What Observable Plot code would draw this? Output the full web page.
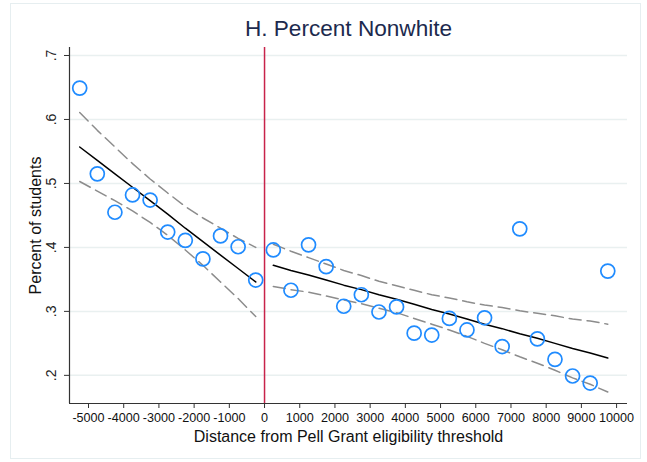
<!DOCTYPE html>
<html>
<head>
<meta charset="utf-8">
<script src="https://cdn.jsdelivr.net/npm/d3@7"></script>
<script src="https://cdn.jsdelivr.net/npm/@observablehq/plot@0.6"></script>
<style>
  html, body { margin: 0; padding: 0; background: #fff; }
  #wrap { position: relative; width: 647px; height: 462px; }
  #border { position: absolute; left: 10px; top: 3px; width: 631px; height: 456px; border: 1px solid #e6eef0; box-sizing: border-box; pointer-events: none; }
  svg { font-family: "Liberation Sans", Arial, sans-serif; }
</style>
</head>
<body>
<div id="wrap"><div id="border"></div></div>
<script>
// ---- data ----
const title = "H. Percent Nonwhite";
const xLabel = "Distance from Pell Grant eligibility threshold";
const yLabel = "Percent of students";
const xTicks = [-5000,-4000,-3000,-2000,-1000,0,1000,2000,3000,4000,5000,6000,7000,8000,9000,10000];
const yTicks = [0.2,0.3,0.4,0.5,0.6,0.7];

// binned means
const binX = [-5250,-4750,-4250,-3750,-3250,-2750,-2250,-1750,-1250,-750,-250,
              250,750,1250,1750,2250,2750,3250,3750,4250,4750,5250,5750,6250,6750,7250,7750,8250,8750,9250,9750];
const binY = [0.649,0.515,0.455,0.482,0.474,0.424,0.411,0.382,0.418,0.401,0.349,
              0.396,0.333,0.404,0.370,0.308,0.326,0.299,0.307,0.266,0.263,0.289,0.271,0.290,0.245,0.429,0.257,0.225,0.199,0.188,0.363];

// fitted line and confidence band, left of threshold
const leftX   = [-5250,-4750,-4250,-3750,-3250,-2750,-2250,-1750,-1250,-750,-250];
const leftFit = [0.557,0.536,0.515,0.494,0.473,0.452,0.430,0.409,0.388,0.367,0.346];
const leftHi  = [0.611,0.583,0.557,0.531,0.507,0.485,0.464,0.446,0.430,0.414,0.400];
const leftLo  = [0.503,0.488,0.473,0.457,0.439,0.419,0.396,0.372,0.346,0.320,0.292];

// fitted line and confidence band, right of threshold
const rightX   = [250,750,1250,1750,2250,2750,3250,3750,4250,4750,5250,5750,6250,6750,7250,7750,8250,8750,9250,9750];
const rightFit = [0.372,0.364,0.357,0.349,0.341,0.334,0.326,0.319,0.311,0.303,0.296,0.288,0.280,0.273,0.265,0.258,0.250,0.242,0.235,0.227];
const rightHi  = [0.405,0.394,0.384,0.374,0.364,0.356,0.347,0.340,0.333,0.326,0.321,0.315,0.310,0.306,0.301,0.297,0.293,0.288,0.285,0.280];
const rightLo  = [0.339,0.334,0.330,0.324,0.318,0.312,0.305,0.298,0.289,0.280,0.271,0.261,0.250,0.240,0.229,0.219,0.208,0.196,0.186,0.174];

const threshold = [0];

// ---- build tables ----
const points = binX.map((x, i) => ({x, y: binY[i]}));
const mk = (xs, ys) => xs.map((x, i) => ({x, y: ys[i]}));
const lFit = mk(leftX, leftFit), lHi = mk(leftX, leftHi), lLo = mk(leftX, leftLo);
const rFit = mk(rightX, rightFit), rHi = mk(rightX, rightHi), rLo = mk(rightX, rightLo);

const fmtY = d => String(d).replace(/^0\./, ".");
const font = "Liberation Sans, Arial, sans-serif";
const dash = {stroke: "#8c8c8c", strokeWidth: 1.5, strokeDasharray: "12,6"};
const fitStyle = {stroke: "#000", strokeWidth: 1.5};

const chart = Plot.plot({
  width: 647,
  height: 462,
  marginLeft: 69,
  marginRight: 20,
  marginTop: 47,
  marginBottom: 59,
  style: {fontFamily: font, background: "transparent", overflow: "visible"},
  x: {domain: [-5540, 10310]},
  y: {domain: [0.156, 0.7125]},
  marks: [
    Plot.gridY(yTicks, {stroke: "#e9f0f0", strokeOpacity: 1, strokeWidth: 1.5}),
    Plot.axisY(yTicks, {tickFormat: fmtY, tickRotate: -90, tickSize: 5, tickPadding: 9, fontSize: 14, label: null, stroke: "#333", color: "#222"}),
    Plot.axisX(xTicks, {tickFormat: d => String(d), tickSize: 5, tickPadding: 5, fontSize: 12.6, label: null, stroke: "#333", color: "#111"}),
    Plot.ruleX(threshold, {stroke: "#c8234a", strokeWidth: 1.5}),
    Plot.ruleX([-5540], {stroke: "#333", strokeWidth: 1.2}),
    Plot.ruleY([0.156], {stroke: "#333", strokeWidth: 1.2}),
    Plot.line(lHi, {x: "x", y: "y", ...dash}),
    Plot.line(lLo, {x: "x", y: "y", ...dash}),
    Plot.line(rHi, {x: "x", y: "y", ...dash}),
    Plot.line(rLo, {x: "x", y: "y", ...dash}),
    Plot.line(lFit, {x: "x", y: "y", ...fitStyle}),
    Plot.line(rFit, {x: "x", y: "y", ...fitStyle}),
    Plot.dot(points, {x: "x", y: "y", r: 7, stroke: "#1f8bff", strokeWidth: 1.7, fill: "none"}),
    Plot.text([title], {frameAnchor: "top", dy: -19, lineAnchor: "middle", fontSize: 22.6, fill: "#1c2a4e"}),
    Plot.text([xLabel], {frameAnchor: "bottom", dy: 33, lineAnchor: "middle", fontSize: 16, fill: "#111"}),
    Plot.text([yLabel], {frameAnchor: "left", dx: -34, rotate: -90, textAnchor: "middle", lineAnchor: "middle", fontSize: 16, fill: "#111"})
  ]
});
document.getElementById("wrap").appendChild(chart);
</script>
</body>
</html>
